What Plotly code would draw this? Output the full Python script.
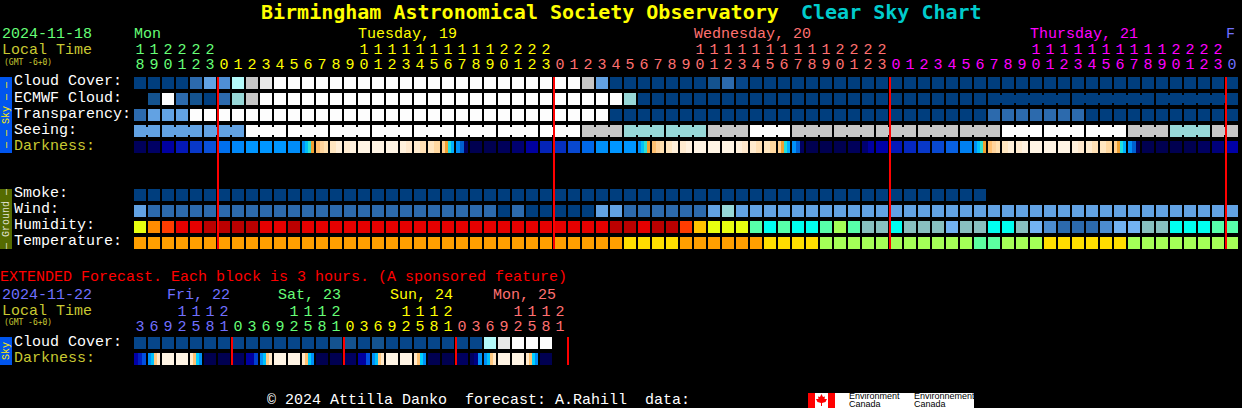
import plotly.graph_objects as go

W, H = 1242, 408
MONO = "Liberation Mono"
BOLD = "DejaVu Sans Mono"

# ---- palettes --------------------------------------------------------------
SKY = {-1: None, 0: "#003E7E", 1: "#06468A", 2: "#14538F", 3: "#2C6AAD", 4: "#4F8FD5",
       5: "#62A2E3", 6: "#97D7D7", 7: "#B4FAFA", 8: "#C6C6C6", 9: "#E8E8E8", 10: "#FDFDFD"}
HUM = {100: "#BB0000", 95: "#E60000", 90: "#FF3C00", 85: "#FF8C00", 80: "#FFC400", 75: "#E8FF10",
       70: "#A4FF57", 65: "#57FFAA", 60: "#00FFF0", 55: "#88BFBF", 50: "#72B2F2", 45: "#4C8CD0", 40: "#2C6AAD"}
TMP = {20: "#FF9F00", 15: "#FFDD00", 10: "#A4FF57", 5: "#5CFFA0"}

# ---- main forecast ----------------------------------------------------------
hours_main = [18, 19, 20, 21, 22, 23,
              0, 1, 2, 3, 4, 5, 6, 7, 8, 9, 10, 11, 12, 13, 14, 15, 16, 17, 18, 19, 20, 21, 22, 23,
              0, 1, 2, 3, 4, 5, 6, 7, 8, 9, 10, 11, 12, 13, 14, 15, 16, 17, 18, 19, 20, 21, 22, 23,
              0, 1, 2, 3, 4, 5, 6, 7, 8, 9, 10, 11, 12, 13, 14, 15, 16, 17, 18, 19, 20, 21, 22, 23,
              0]
hour_colors_main = ["#66FF77"] * 6 + ["#FFFF00"] * 24 + ["#FF7070"] * 24 + ["#FF00FF"] * 24 + ["#7070FF"]

cloud_cover = [0, 0, 0, 0, 3, 5, 4, 7, 8, 9] + [10] * 22 + [8, 5] + [0] * 7 + [2, 3, 1] + [0] * 35
ecmwf_cloud = [-1, 2, 10, 3, 2, 0, 3, 6, 8] + [10] * 26 + [6] + [0] * 43
ecmwf_joined = list(range(61, 66)) + list(range(67, 72)) + list(range(73, 78))
transparency = [3, 5, 5, 5] + [10] * 30 + [0] * 27 + [3] * 7 + [0] * 11
seeing = [5] * 8 + [10] * 24 + [8] * 3 + [6] * 6 + [8] * 3 + [10] * 3 + [8] * 15 + [10] * 9 + [8] * 3 + [6] * 3 + [8] * 2
seeing_joined = [0, 2, 3, 5, 6, 8, 9, 11, 12, 14, 15, 17, 18, 20, 21, 23, 24, 26, 27, 29, 30,
                 32, 33, 35, 36, 38, 39, 41, 42, 44, 45, 47, 48, 50, 51, 53, 54, 56, 57, 59, 60,
                 62, 63, 65, 66, 68, 69, 71, 72, 74, 75, 77]
smoke = [0] * 61
wind = [5] + [3] * 19 + [3] * 6 + [0, 3, 0, 0, 0, 0, 0, 5, 5] + [3] * 6 + [5, 6] + [5] * 36
humidity = [75, 85, 90, 95, 95, 100, 100, 100, 100, 95, 95, 100] + [95] * 22 + [100, 100, 95, 100, 100, 90, 80, 75, 75, 75,
            65, 60, 65, 60, 60, 65, 70, 65, 55, 55, 60, 55, 55, 55, 50, 55, 55, 60, 60, 55, 50, 45, 40, 40, 40, 45,
            50, 50, 55, 55, 60, 60, 60, 65, 65]
temperature = [20] * 35 + [15] * 4 + [20] * 6 + [15] * 4 + [10] * 11 + [5, 5] + [10] * 3 + [15] * 6 + [10] * 8

CREAM = "#FFF4E4"
SET_M = ["#0090F8", "#00C0F8", "#30E0D0", "#F0A030"]
RISE_M = ["#FFD090", "#F0A030", "#20E0E0", "#00B0FF"]
darkness = [
    ["#00005A"], ["#000064"], ["#0000A0"], ["#0418B8"], ["#0838C8"], ["#0A50D8"], ["#0070EE"], ["#0088F8"],
    ["#0096FF"], ["#0096FF"], ["#0096FF"], ["#008CF8"], SET_M, ["#FFC070", "#FFD49C", "#FFE0B0"],
    ["#FFE6C0", "#FFEFD8"], ["#FFEBD0", "#FFF2E0"], [CREAM], [CREAM], [CREAM], ["#FFF0DC", "#FFE8CC"],
    ["#FFEBCE", "#FFE0B4"], ["#FFE6C0", "#FFD8A0"], RISE_M, ["#0090F8", "#0060D0", "#000060"],
    ["#000050"], ["#000050"], ["#00005A"], ["#000070"], ["#0000A0"], ["#0424B8"], ["#0530C0"], ["#0848D0"],
    ["#0068E8"], ["#0090F8"], ["#0096FF"], ["#0096FF"], SET_M, ["#FFC070", "#FFD49C", "#FFE0B0"],
    ["#FFE6C0", "#FFEFD8"], ["#FFEBD0", "#FFF2E0"], [CREAM], [CREAM], [CREAM], ["#FFF0DC", "#FFE8CC"],
    ["#FFEBCE", "#FFE0B4"], ["#FFE6C0", "#FFD8A0"], RISE_M, ["#0090F8", "#0060D0", "#000060"],
    ["#000050"], ["#000050"], ["#000050"], ["#00005A"], ["#000070", "#0000A0"], ["#0000A8"], ["#0418B8"],
    ["#0528C0"], ["#0838C8"], ["#0848D0"], ["#0860E0"], ["#0080F0"], SET_M, ["#FFC070", "#FFD49C", "#FFE0B0"],
    ["#FFE6C0", "#FFEFD8"], ["#FFEBD0", "#FFF2E0"], [CREAM], [CREAM], [CREAM], ["#FFF0DC", "#FFE8CC"],
    ["#FFEBCE", "#FFE0B4"], ["#FFE6C0", "#FFD8A0"], RISE_M, ["#0090F8", "#0060D0", "#000060"],
    ["#000050"], ["#000050"], ["#000050"], ["#000050"], ["#000060"], ["#00007A"], ["#0000A8"],
]
midnight_cols = [6, 30, 54, 78]

# ---- extended forecast ------------------------------------------------------
hours_ext = [3, 6, 9, 12, 15, 18, 21,
             0, 3, 6, 9, 12, 15, 18, 21,
             0, 3, 6, 9, 12, 15, 18, 21,
             0, 3, 6, 9, 12, 15, 18, 21]
hour_colors_ext = ["#7070FF"] * 7 + ["#66FF77"] * 8 + ["#FFFF00"] * 8 + ["#FF7070"] * 8
cloud_ext = [1] * 14 + [2, 2, 1, 2] + [1] * 7 + [7, 9, 10, 10, 10]
E_SET = ["#0090F8", "#00C0F8", "#FFC880", "#FFE8C8"]
E_RISE = ["#FFE8C8", "#FFC070", "#00D0FF", "#0090F8"]
darkness_ext = [
    ["#0000A8", "#0020C0", "#0050E0"], E_SET, [CREAM], [CREAM], E_RISE, ["#000050"], ["#000050"],
    ["#000060"], ["#0000A0", "#0000A0", "#0040D0"], E_SET, [CREAM], [CREAM], E_RISE, ["#000050"], ["#000050"],
    ["#000060"], ["#0000A0", "#0000A0", "#0050E0"], E_SET, [CREAM], [CREAM], E_RISE, ["#000050"], ["#000050"],
    ["#000060"], ["#000060", "#000080", "#0090F8"], E_SET, [CREAM], [CREAM], E_RISE, ["#000050"],
]
midnight_cols_ext = [7, 15, 23, 31]

# ---- texts ------------------------------------------------------------------
row_labels = ["Cloud Cover:", "ECMWF Cloud:", "Transparency:", "Seeing:", "Darkness:"]
ground_labels = ["Smoke:", "Wind:", "Humidity:", "Temperature:"]
ext_labels = ["Cloud Cover:", "Darkness:"]
day_labels = [("Mon", 0, "#66FF77"), ("Tuesday, 19", 16, "#FFFF00"),
              ("Wednesday, 20", 40, "#FF7070"), ("Thursday, 21", 64, "#FF00FF"), ("F", 78, "#7070FF")]
ext_day_labels = [("Fri, 22", 167, "#7070FF"), ("Sat, 23", 278, "#66FF77"),
                  ("Sun, 24", 390, "#FFFF00"), ("Mon, 25", 493, "#FF7070")]

# ---- geometry helpers (pixel layout of the page) ----------------------------
PITCH_X, PITCH_Y = 14.0, 16.0
BW, BH = 12 / PITCH_X, 12 / PITCH_Y
x_range = [(0 - 140) / PITCH_X, (W - 140) / PITCH_X]
y_range = [(H - 83) / PITCH_Y, (0 - 83) / PITCH_Y]
y2_range = [(H - 343) / PITCH_Y, (0 - 343) / PITCH_Y]
px = lambda v: v / W
py = lambda v: 1 - v / H

fig = go.Figure()


def block_row(values, row, yaxis="y", palette=SKY):
    cols = [i for i, v in enumerate(values) if palette[v]]
    fig.add_trace(go.Bar(x=cols, y=[BH] * len(cols), base=row - BH / 2, width=BW,
                         marker=dict(color=[palette[values[i]] for i in cols], line_width=0),
                         yaxis=yaxis, hoverinfo="skip", showlegend=False))


def joints(cols, values, row):
    fig.add_trace(go.Bar(x=[c + 0.5 for c in cols], y=[8 / PITCH_Y] * len(cols), base=row - 4 / PITCH_Y,
                         width=2 / PITCH_X, marker=dict(color=[SKY[values[c]] for c in cols], line_width=0),
                         hoverinfo="skip", showlegend=False))


def slice_row(blocks, row, yaxis="y"):
    xs, widths, colors = [], [], []
    for i, parts in enumerate(blocks):
        n = len(parts)
        for k, c in enumerate(parts):
            xs.append(i - BW / 2 + (k + 0.5) * BW / n)
            widths.append(BW / n)
            colors.append(c)
    fig.add_trace(go.Bar(x=xs, y=[BH] * len(xs), base=row - BH / 2, width=widths,
                         marker=dict(color=colors, line_width=0), yaxis=yaxis,
                         hoverinfo="skip", showlegend=False))


def midnight_lines(cols, last_row, yaxis="y"):
    fig.add_trace(go.Bar(x=[c - BW / 2 for c in cols], y=[last_row + BH] * len(cols), base=-BH / 2,
                         width=2 / PITCH_X, marker=dict(color="#FF0000", line_width=0), yaxis=yaxis,
                         hoverinfo="skip", showlegend=False))


block_row(cloud_cover, 0)
block_row(ecmwf_cloud, 1)
joints(ecmwf_joined, ecmwf_cloud, 1)
block_row(transparency, 2)
block_row(seeing, 3)
joints(seeing_joined, seeing, 3)
slice_row(darkness, 4)
block_row(smoke, 7)
block_row(wind, 8)
block_row(humidity, 9, palette=HUM)
block_row(temperature, 10, palette=TMP)
midnight_lines(midnight_cols, 10)
block_row(cloud_ext, 0, yaxis="y2")
slice_row(darkness_ext, 1, yaxis="y2")
midnight_lines(midnight_cols_ext, 1, yaxis="y2")


# hour digits
def hour_text(hours, colors, tens_row, unit_row, yaxis="y"):
    t = [i for i, h in enumerate(hours) if h >= 10]
    fig.add_trace(go.Scatter(x=t, y=[tens_row] * len(t), mode="text", text=[str(hours[i] // 10) for i in t],
                             textfont=dict(family=MONO, size=15, color=[colors[i] for i in t]),
                             yaxis=yaxis, hoverinfo="skip", showlegend=False))
    fig.add_trace(go.Scatter(x=list(range(len(hours))), y=[unit_row] * len(hours), mode="text",
                             text=[str(h % 10) for h in hours],
                             textfont=dict(family=MONO, size=15, color=colors),
                             yaxis=yaxis, hoverinfo="skip", showlegend=False))


hour_text(hours_main, hour_colors_main, (50 - 83) / PITCH_Y, (65 - 83) / PITCH_Y)
hour_text(hours_ext, hour_colors_ext, (312 - 343) / PITCH_Y, (327 - 343) / PITCH_Y, yaxis="y2")

shapes = []


def rect(x0, y0, x1, y1, color):
    shapes.append(dict(type="rect", xref="paper", yref="paper", x0=px(x0), x1=px(x1), y0=py(y0), y1=py(y1),
                       fillcolor=color, line_width=0, layer="below"))


rect(0, 77, 12, 153, "#0055EE")
rect(0, 189, 12, 249, "#556B00")
rect(0, 337, 12, 365, "#0055EE")
rect(808, 393, 974, 408, "#FFFFFF")
rect(808, 393, 815, 408, "#FF0000")
rect(828, 393, 835, 408, "#FF0000")
leaf = [(821.5, 394), (823, 397), (825, 396.5), (824.5, 399), (827, 399), (825.5, 402), (822, 403), (822, 406),
        (821, 406), (821, 403), (817.5, 402), (816, 399), (818.5, 399), (818, 396.5), (820, 397)]
shapes.append(dict(type="path", xref="paper", yref="paper", fillcolor="#FF0000", line_width=0,
                   path="M" + " L".join(f"{px(a):.5f},{py(b):.5f}" for a, b in leaf) + " Z"))

ann = []


def label(x, y, text, color, size=15, family=MONO, anchor="left", angle=0, bold=False):
    if bold:
        text = f"<b>{text}</b>"
    ann.append(dict(xref="paper", yref="paper", x=px(x), y=py(y), text=text, showarrow=False,
                    xanchor=anchor, yanchor="middle", borderpad=0, textangle=angle,
                    font=dict(family=family, size=size, color=color)))


label(260, 12, "Birmingham Astronomical Society Observatory", "#FFFF00", 20, BOLD, bold=True)
label(800, 12, "Clear Sky Chart", "#00CCCC", 20, BOLD, bold=True)
label(1, 34, "2024-11-18", "#66FF77")
label(1, 50, "Local Time", "#C8C832")
label(3, 62, "(GMT -6+0)", "#C8C832", 8, BOLD)
for text, col, color in day_labels:
    label(133 + col * PITCH_X, 34, text, color)
for i, t in enumerate(row_labels):
    label(13, 82 + i * PITCH_Y, t, "#C8C832" if t == "Darkness:" else "#FFFFFF")
for i, t in enumerate(ground_labels):
    label(13, 193.5 + i * PITCH_Y, t, "#FFFFFF")
label(-1, 277, "EXTENDED Forecast. Each block is 3 hours. (A sponsored feature)", "#FF0000")
label(1, 295, "2024-11-22", "#7070FF")
label(1, 311, "Local Time", "#C8C832")
label(3, 322, "(GMT -6+0)", "#C8C832", 8, BOLD)
for text, x, color in ext_day_labels:
    label(x - 1, 295, text, color)
for i, t in enumerate(ext_labels):
    label(13, 342 + i * PITCH_Y, t, "#C8C832" if t == "Darkness:" else "#FFFFFF")
label(6, 115, "— — Sky — —", "#FFEE00", 10, anchor="center", angle=-90)
label(6, 219, "— Ground —", "#E0E0D0", 10, anchor="center", angle=-90)
label(6, 351, "Sky", "#FFEE00", 10, anchor="center", angle=-90)
label(266, 400, "© 2024 Attilla Danko  forecast: A.Rahill  data:", "#FFFFFF")
label(848, 396, "Environment", "#000000", 9, "Liberation Sans")
label(848, 404, "Canada", "#000000", 9, "Liberation Sans")
label(913, 396, "Environnement", "#000000", 9, "Liberation Sans")
label(913, 404, "Canada", "#000000", 9, "Liberation Sans")

hidden = dict(visible=False, fixedrange=True)
fig.update_layout(
    width=W, height=H, margin=dict(l=0, r=0, t=0, b=0), autosize=False,
    paper_bgcolor="#000000", plot_bgcolor="#000000", showlegend=False, barmode="overlay",
    bargap=0, xaxis=dict(range=x_range, domain=[0, 1], **hidden),
    yaxis=dict(range=y_range, domain=[0, 1], **hidden),
    yaxis2=dict(range=y2_range, domain=[0, 1], overlaying="y", anchor="x", **hidden),
    shapes=shapes, annotations=ann,
)
fig.write_html("out.html", config={"displayModeBar": False},
               post_script="document.body.style.margin='0';document.body.style.background='#000';")
